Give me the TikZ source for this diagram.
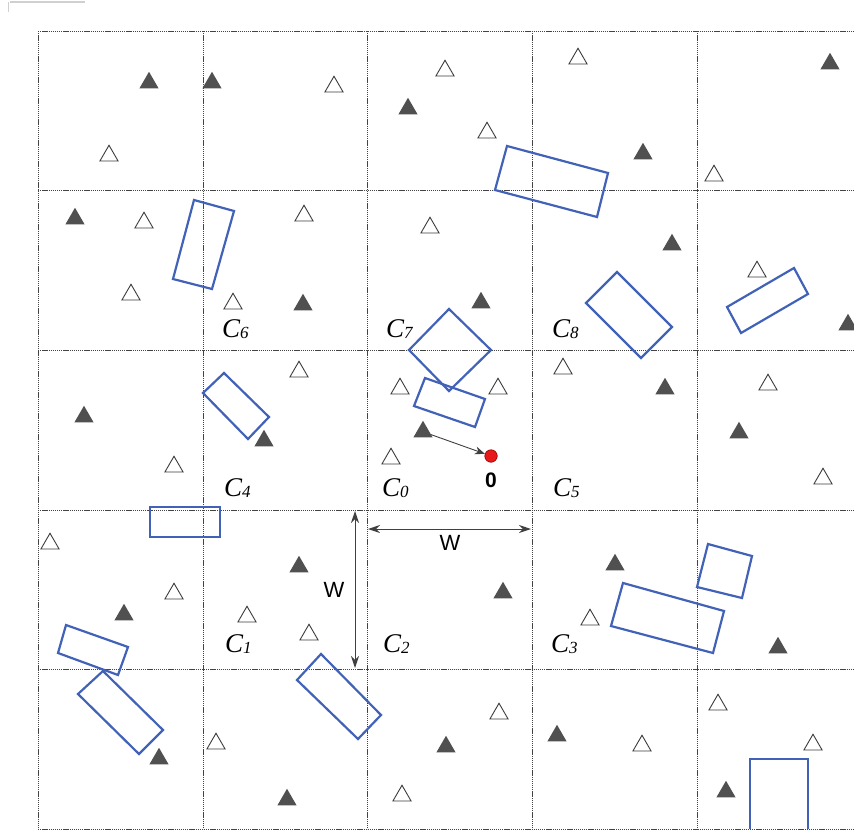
\documentclass[tikz,border=0pt]{standalone}
\usepackage{fontspec}
\setmainfont{Liberation Serif}
\setsansfont{Liberation Sans}
\usetikzlibrary{shapes.geometric,arrows.meta}
\definecolor{gridc}{HTML}{444444}
\definecolor{rectc}{HTML}{4262B8}
\definecolor{trif}{HTML}{505050}
\definecolor{trio}{HTML}{3C3C3C}
\definecolor{dotred}{HTML}{E8191A}
\definecolor{dimc}{HTML}{404040}
\definecolor{artc}{HTML}{D0D0D0}
\newcommand{\clab}[1]{C\raisebox{-1.5pt}{\fontsize{17}{17}\selectfont #1}}
\begin{document}
\begin{tikzpicture}[x=1pt,y=-1pt,
  gridline/.style={gridc, line width=1pt, dash pattern=on 1.3pt off 0.8pt},
  blk/.style={rectc, line width=2.2pt, line join=miter},
  ftri/.style={regular polygon, regular polygon sides=3, minimum size=22pt, inner sep=0pt, outer sep=0pt, fill=trif, draw=none},
  htri/.style={regular polygon, regular polygon sides=3, minimum size=21pt, inner sep=0pt, outer sep=0pt, fill=white, draw=trio, line width=0.9pt},
  clabel/.style={anchor=base west, inner sep=0pt, font=\fontsize{27}{27}\selectfont\itshape},
  wlabel/.style={inner sep=0pt, font=\fontsize{22}{22}\selectfont\sffamily},
  dim/.style={dimc, line width=1pt, {Stealth[length=12pt,width=8pt]}-{Stealth[length=12pt,width=8pt]}},
  arr/.style={dimc, line width=0.9pt, -{Stealth[length=10pt,width=8pt]}}]
\useasboundingbox (0,0) rectangle (854,830);
% artefact at top left
\draw[artc, line width=1.5pt] (10,2) -- (85,2);
\draw[artc, line width=1pt] (8,2) -- (8,12);
% grid
\foreach \gx in {38,203,367,532,697} \draw[gridline] (\gx,31) -- (\gx,829);
\foreach \gy in {31,190,350,510,669,829} \draw[gridline] (38,\gy) -- (854,\gy);
% filled triangles
\foreach \x/\y [count=\i] in {149/80,212/80,408/106,643/151,830/61,75/216,303/302,481/300,672/242,848/322,84/414,264/438,423/429,665/386,739/430,299/564,503/590,615/562,124/612,778/645,159/756,287/797,446/744,557/733,726/789}
  \node[ftri] (f\i) at (\x,{\y+2.75}) {};
% hollow triangles
\foreach \x/\y [count=\i] in {334/84,445/68,578/56,109/153,487/130,714/173,144/220,304/213,430/225,131/292,233/301,757/269,299/369,400/386,498/386,563/366,768/382,174/464,391/456,823/476,50/541,174/591,247/614,309/632,590/617,499/711,216/741,402/793,642/743,718/702,813/742}
  \node[htri] (h\i) at (\x,{\y+2.75}) {};
% blue rectangles
\draw[blk] (507,146) -- (608,173) -- (597,217) -- (495,190) -- cycle;
\draw[blk] (194,200) -- (234,211) -- (212,289) -- (173,279) -- cycle;
\draw[blk] (617,272) -- (672,327) -- (641,358) -- (586,303) -- cycle;
\draw[blk] (224,373) -- (269,417) -- (248,439) -- (203,393) -- cycle;
\draw[blk] (150,507) rectangle (220,537);
\draw[blk] (708,544) -- (752,556) -- (742,598) -- (697,587) -- cycle;
\draw[blk] (623,583) -- (724,611) -- (713,653) -- (611,626) -- cycle;
\draw[blk] (449,309) -- (491,350) -- (449,391) -- (409,350) -- cycle;
\draw[blk] (425,378) -- (485,399) -- (475,427) -- (414,406) -- cycle;
\draw[blk] (794,268) -- (808,294) -- (741,333) -- (727,307) -- cycle;
\draw[blk] (750,829) -- (750,759) -- (808,759) -- (808,829);
\draw[blk] (66,625) -- (128,647) -- (118,675) -- (58,653) -- cycle;
\draw[blk] (103,671) -- (163,730) -- (139,754) -- (78,694) -- cycle;
\draw[blk] (321,654) -- (381,715) -- (358,739) -- (297,680) -- cycle;
% cell labels
\node[clabel] (c6) at (222,337) {\clab{6}};
\node[clabel] (c7) at (386,337) {\clab{7}};
\node[clabel] (c8) at (552,337) {\clab{8}};
\node[clabel] (c4) at (224,496) {\clab{4}};
\node[clabel] (c0) at (382,496) {\clab{0}};
\node[clabel] (c5) at (553,496) {\clab{5}};
\node[clabel] (c1) at (225,652) {\clab{1}};
\node[clabel] (c2) at (383,652) {\clab{2}};
\node[clabel] (c3) at (551,652) {\clab{3}};
% origin point and arrow
\node[circle, fill=dotred, draw=red!55!black, line width=0.6pt, minimum size=12.5pt, inner sep=0pt] (o) at (491,456) {};
\node[inner sep=0pt, font=\fontsize{21}{21}\selectfont\sffamily\bfseries] (olab) at (491,480) {0};
\draw[arr] (f13) -- (o);
% dimension arrows
\coordinate (hA) at (368,529);
\coordinate (hB) at (531,529);
\draw[dim] (hA) -- (hB);
\node[wlabel] (wh) at (450,543) {W};
\coordinate (vA) at (355,511);
\coordinate (vB) at (355,668);
\draw[dim] (vA) -- (vB);
\node[wlabel] (wv) at (334,590) {W};
\end{tikzpicture}
\end{document}
